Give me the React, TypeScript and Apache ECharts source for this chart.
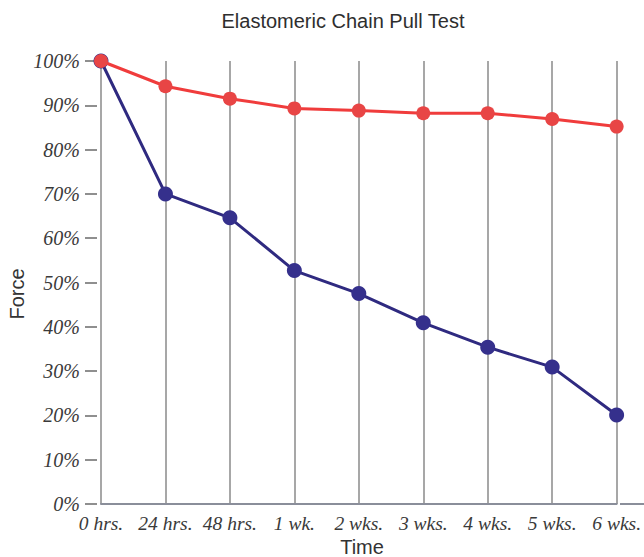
import React, { useEffect, useRef } from "react";
import * as echarts from "echarts";

const categories = ["0 hrs.", "24 hrs.", "48 hrs.", "1 wk.", "2 wks.", "3 wks.", "4 wks.", "5 wks.", "6 wks."];
const redValues = [100, 94.3, 91.5, 89.3, 88.8, 88.2, 88.2, 86.9, 85.2];
const blueValues = [100, 70, 64.6, 52.7, 47.5, 40.9, 35.4, 30.9, 20.1];

export default function App() {
  const ref = useRef<HTMLDivElement>(null);
  useEffect(() => {
    const chart = echarts.init(ref.current!, null, { renderer: "svg" });
    const labelFont = { fontFamily: "Liberation Serif", fontStyle: "italic" as const, fontSize: 19.5, color: "#3a3a3a" };
    chart.setOption({
      animation: false,
      backgroundColor: "#ffffff",
      grid: { left: 101, right: 22, top: 61, bottom: 53 },
      xAxis: {
        type: "category",
        data: categories,
        boundaryGap: false,
        axisLine: { show: true, lineStyle: { color: "#8a8e9a", width: 2 } },
        axisTick: { show: false },
        axisLabel: { ...labelFont, margin: 9, interval: 0, hideOverlap: false },
        splitLine: { show: true, interval: 0, lineStyle: { color: "#8a8a8a", width: 1.5 } },
      },
      yAxis: {
        type: "value",
        min: 0,
        max: 100,
        interval: 10,
        offset: 4,
        axisLine: { show: false },
        axisTick: { show: true, length: 12, lineStyle: { color: "#6a6a6a", width: 1.5 } },
        axisLabel: { ...labelFont, fontSize: 20, margin: 17, formatter: "{value}%" },
        splitLine: { show: false },
      },
      graphic: [
        {
          type: "text",
          x: 343,
          y: 21,
          style: {
            text: "Elastomeric Chain Pull Test",
            fontFamily: "Liberation Sans",
            fontSize: 20,
            fill: "#2e2e2e",
            textAlign: "center",
            textVerticalAlign: "middle",
          },
        },
        {
          type: "text",
          x: 17,
          y: 294,
          rotation: Math.PI / 2,
          style: {
            text: "Force",
            fontFamily: "Liberation Sans",
            fontSize: 20,
            fill: "#333",
            textAlign: "center",
            textVerticalAlign: "middle",
          },
        },
        {
          type: "text",
          x: 362,
          y: 547,
          style: {
            text: "Time",
            fontFamily: "Liberation Sans",
            fontSize: 20,
            fill: "#333",
            textAlign: "center",
            textVerticalAlign: "middle",
          },
        },
        {
          type: "line",
          shape: { x1: 620, y1: 504, x2: 644, y2: 504 },
          style: { stroke: "#8a8e9a", lineWidth: 2 },
        },
      ],
      series: [
        {
          type: "line",
          data: redValues,
          symbol: "circle",
          symbolSize: 14,
          lineStyle: { color: "#f03c3c", width: 3 },
          itemStyle: { color: "#e84545" },
          z: 3,
        },
        {
          type: "line",
          data: blueValues,
          symbol: "circle",
          symbolSize: 15,
          lineStyle: { color: "#2f2a80", width: 3 },
          itemStyle: { color: "#35308c" },
          z: 2,
        },
      ],
    });
    return () => chart.dispose();
  }, []);
  return <div ref={ref} style={{ width: 644, height: 557, position: "absolute", left: 0, top: 0 }} />;
}
